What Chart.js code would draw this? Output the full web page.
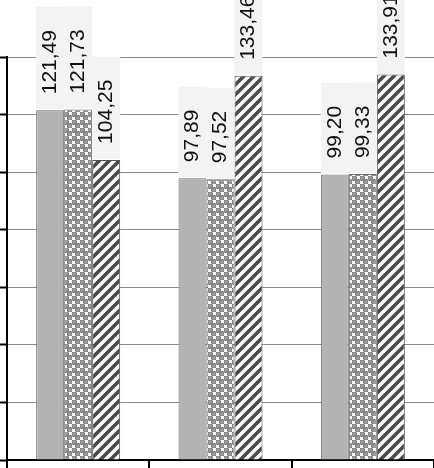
<!DOCTYPE html>
<html>
<head>
<meta charset="utf-8">
<script src="https://cdn.jsdelivr.net/npm/chart.js@4"></script>
<style>
  html, body { margin: 0; padding: 0; background: #fff; }
  #wrap { width: 434px; height: 468px; position: relative; }
</style>
</head>
<body>
<div id="wrap"><canvas id="chart"></canvas></div>
<script>
const categories = ['1', '2', '3'];
const seriesA = [121.49, 97.89, 99.20];
const seriesB = [121.73, 97.52, 99.33];
const seriesC = [104.25, 133.46, 133.91];
const yTicks = [0, 20, 40, 60, 80, 100, 120, 140];

// fill patterns for the second and third series
function dotPattern() {
    const c = document.createElement('canvas');
    c.width = 8; c.height = 8;
    const g = c.getContext('2d');
    g.fillStyle = '#fff';
    g.fillRect(0, 0, 8, 8);
    g.fillStyle = '#9c9c9c';
    g.strokeStyle = '#686868';
    g.lineWidth = 1;
    [[2, 2], [6, 6]].forEach(([cx, cy]) => {
        g.beginPath();
        g.arc(cx, cy, 2.5, 0, Math.PI * 2);
        g.fill();
        g.stroke();
    });
    return g.createPattern(c, 'repeat');
}

function hatchPattern() {
    const s = 10;
    const c = document.createElement('canvas');
    c.width = s; c.height = s;
    const g = c.getContext('2d');
    g.fillStyle = '#fff';
    g.fillRect(0, 0, s, s);
    g.strokeStyle = '#4a4a4a';
    g.lineWidth = 3.6;
    g.beginPath();
    g.moveTo(-1, s + 1); g.lineTo(s + 1, -1);
    g.moveTo(-s / 2 - 1, s / 2 + 1); g.lineTo(s / 2 + 1, -s / 2 - 1);
    g.moveTo(s / 2 - 1, s * 1.5 + 1); g.lineTo(s * 1.5 + 1, s / 2 - 1);
    g.stroke();
    return g.createPattern(c, 'repeat');
}

const fmt = v => v.toFixed(2).replace('.', ',');

const valueLabels = {
    id: 'valueLabels',
    afterDatasetsDraw(chart) {
        const ctx = chart.ctx;
        ctx.save();
        ctx.font = '21px "Liberation Sans", Arial, sans-serif';
        chart.data.datasets.forEach((ds, i) => {
            chart.getDatasetMeta(i).data.forEach((bar, j) => {
                const text = fmt(ds.data[j]);
                const tw = ctx.measureText(text).width;
                const w = bar.width;
                const bottom = bar.y - 1;
                const h = tw + 38;
                ctx.fillStyle = '#f3f3f3';
                ctx.fillRect(bar.x - w / 2, bottom - h, w, h);
                ctx.save();
                ctx.translate(bar.x, bottom - 15);
                ctx.rotate(-Math.PI / 2);
                ctx.fillStyle = '#111';
                ctx.textAlign = 'left';
                ctx.textBaseline = 'middle';
                ctx.fillText(text, 0, 0);
                ctx.restore();
            });
        });
        ctx.restore();
    }
};

new Chart(document.getElementById('chart'), {
    type: 'bar',
    data: {
        labels: categories,
        datasets: [
            { data: seriesA, backgroundColor: '#b3b3b3', borderColor: '#6e6e6e', borderWidth: 1 },
            { data: seriesB, backgroundColor: dotPattern(), borderColor: '#6e6e6e', borderWidth: 1 },
            { data: seriesC, backgroundColor: hatchPattern(), borderColor: '#505050', borderWidth: 1 }
        ]
    },
    options: {
        responsive: true,
        maintainAspectRatio: false,
        animation: false,
        events: [],
        layout: { padding: { top: 57, left: 0, right: 0, bottom: 0 } },
        datasets: { bar: { categoryPercentage: 0.59, barPercentage: 1 } },
        plugins: { legend: { display: false }, tooltip: { enabled: false } },
        scales: {
            x: {
                ticks: { display: false },
                grid: { offset: true, drawOnChartArea: false, tickLength: 8, color: '#000', lineWidth: 2 },
                border: { color: '#000', width: 2 }
            },
            y: {
                min: yTicks[0],
                max: yTicks[yTicks.length - 1],
                afterBuildTicks: axis => { axis.ticks = yTicks.map(v => ({ value: v })); },
                ticks: { display: false },
                grid: { color: '#8a8a8a', lineWidth: 1, tickLength: 7, tickColor: '#000', tickWidth: 2 },
                border: { color: '#000', width: 2 }
            }
        }
    },
    plugins: [valueLabels]
});
</script>
</body>
</html>
